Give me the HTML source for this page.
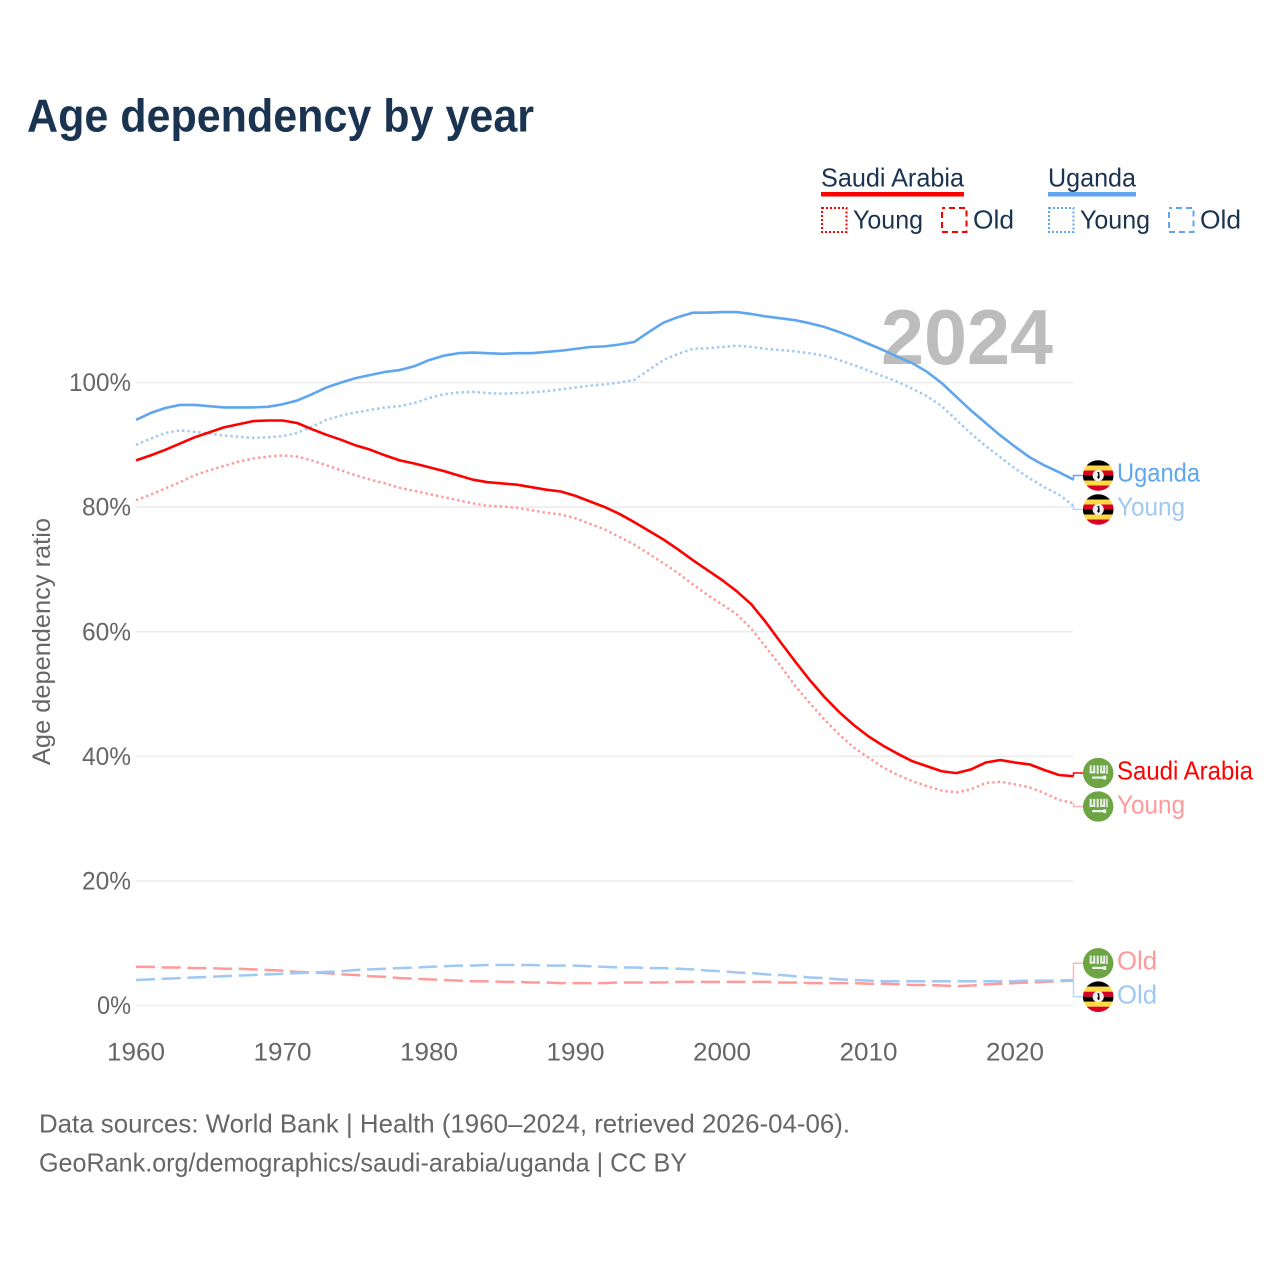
<!DOCTYPE html>
<html lang="en">
<head>
<meta charset="utf-8">
<title>Age dependency by year</title>
<style>
html,body{margin:0;padding:0;background:#fff;width:1280px;height:1280px;overflow:hidden}
svg{display:block}
text{font-family:"Liberation Sans",sans-serif}
</style>
</head>
<body>
<svg id="chart" width="1280" height="1280" viewBox="0 0 1280 1280" xmlns="http://www.w3.org/2000/svg">
  <defs>
    <clipPath id="flag-clip"><circle cx="0" cy="0" r="15.3"/></clipPath>
    <g id="flag-ug" clip-path="url(#flag-clip)">
      <rect x="-16" y="-16" width="32" height="6" fill="#000"/>
      <rect x="-16" y="-10" width="32" height="5" fill="#ffda44"/>
      <rect x="-16" y="-5" width="32" height="5" fill="#d80027"/>
      <rect x="-16" y="0" width="32" height="5" fill="#000"/>
      <rect x="-16" y="5" width="32" height="5" fill="#ffda44"/>
      <rect x="-16" y="10" width="32" height="6" fill="#d80027"/>
      <circle cx="0" cy="0" r="5.6" fill="#f0f0f0"/>
      <path d="M-1 -3.5 L1 -3.5 L1.5 2 L0.5 3.5 L-1 2 L0 -1 Z" fill="#000"/>
    </g>
    <g id="flag-sa" clip-path="url(#flag-clip)">
      <circle cx="0" cy="0" r="15.3" fill="#6da544"/>
      <g transform="translate(0,-0.7)" fill="#f0f0f0">
        <rect x="-8.5" y="-7" width="2" height="8"/>
        <rect x="-8.5" y="-1" width="5.5" height="2"/>
        <rect x="-5" y="-7" width="2" height="8"/>
        <rect x="-1.5" y="-7" width="2" height="8.5"/>
        <rect x="2" y="-7" width="2" height="8"/>
        <rect x="2" y="-1" width="5" height="2"/>
        <rect x="5" y="-7" width="2" height="8"/>
        <rect x="8" y="-7" width="1.5" height="8.5"/>
        <rect x="-6" y="4.2" width="12" height="2.2"/>
        <rect x="5" y="3.5" width="3" height="3.8"/>
      </g>
    </g>
  </defs>

  <text x="27" y="131.5" font-size="46" font-weight="700" fill="#1a3350" textLength="507" lengthAdjust="spacingAndGlyphs">Age dependency by year</text>

  <g fill="#1a3350" font-size="26">
    <g>
      <text x="821" y="186.5" textLength="143" lengthAdjust="spacingAndGlyphs">Saudi Arabia</text>
      <rect x="821" y="192" width="143" height="4.5" fill="#ff0000"/>
    </g>
    <g>
      <rect x="822" y="208" width="24.5" height="24" fill="none" stroke="#ff0000" stroke-width="2" stroke-dasharray="2 2"/>
      <text x="853" y="228.5" textLength="70" lengthAdjust="spacingAndGlyphs">Young</text>
    </g>
    <g>
      <rect x="942" y="208" width="24.5" height="24" fill="none" stroke="#ff0000" stroke-width="2" stroke-dasharray="6 4" stroke-dashoffset="3"/>
      <text x="973" y="228.5" textLength="41" lengthAdjust="spacingAndGlyphs">Old</text>
    </g>
    <g>
      <text x="1048" y="186.5" textLength="88" lengthAdjust="spacingAndGlyphs">Uganda</text>
      <rect x="1048" y="192" width="88" height="4.5" fill="#5fa6ee"/>
    </g>
    <g>
      <rect x="1049" y="208" width="24.5" height="24" fill="none" stroke="#5fa6ee" stroke-width="2" stroke-dasharray="2 2"/>
      <text x="1080" y="228.5" textLength="70" lengthAdjust="spacingAndGlyphs">Young</text>
    </g>
    <g>
      <rect x="1169" y="208" width="24.5" height="24" fill="none" stroke="#5fa6ee" stroke-width="2" stroke-dasharray="6 4" stroke-dashoffset="3"/>
      <text x="1200" y="228.5" textLength="41" lengthAdjust="spacingAndGlyphs">Old</text>
    </g>
  </g>

  <text transform="translate(50,765) rotate(-90)" x="0" y="0" font-size="25" fill="#666" textLength="247" lengthAdjust="spacingAndGlyphs">Age dependency ratio</text>

  <g id="grid"></g>
  <g id="y-ticks"></g>
  <g id="x-ticks"></g>

  <text x="881" y="364" font-size="78" font-weight="700" fill="#bdbdbd" textLength="172" lengthAdjust="spacingAndGlyphs">2024</text>

  <g id="series"></g>
  <g id="end-labels"></g>

  <g font-size="26" fill="#666">
    <text x="39" y="1132.5" textLength="811" lengthAdjust="spacingAndGlyphs">Data sources: World Bank | Health (1960–2024, retrieved 2026-04-06).</text>
    <text x="39" y="1171.5" textLength="648" lengthAdjust="spacingAndGlyphs">GeoRank.org/demographics/saudi-arabia/uganda | CC BY</text>
  </g>
</svg>

<script>
const years = [1960,1961,1962,1963,1964,1965,1966,1967,1968,1969,1970,1971,1972,1973,1974,1975,1976,1977,1978,1979,1980,1981,1982,1983,1984,1985,1986,1987,1988,1989,1990,1991,1992,1993,1994,1995,1996,1997,1998,1999,2000,2001,2002,2003,2004,2005,2006,2007,2008,2009,2010,2011,2012,2013,2014,2015,2016,2017,2018,2019,2020,2021,2022,2023,2024];
const xTickLabels = [1960,1970,1980,1990,2000,2010,2020];
const yTickLabels = [0,20,40,60,80,100];
const ugandaTotal = [94,95.1,95.9,96.4,96.4,96.2,96,96,96,96.1,96.5,97.1,98.1,99.2,100,100.7,101.2,101.7,102,102.6,103.6,104.3,104.7,104.8,104.7,104.6,104.7,104.7,104.9,105.1,105.4,105.7,105.8,106.1,106.5,108.1,109.6,110.5,111.2,111.2,111.3,111.3,111,110.6,110.3,110,109.5,108.9,108.1,107.2,106.2,105.2,104.1,103.1,101.7,99.9,97.7,95.5,93.5,91.5,89.7,88,86.7,85.6,84.4];
const ugandaYoung = [90,91,91.9,92.3,92.1,91.8,91.5,91.3,91.1,91.2,91.4,91.9,92.9,94,94.7,95.2,95.6,96,96.2,96.7,97.5,98.1,98.4,98.5,98.3,98.2,98.3,98.4,98.6,98.9,99.2,99.5,99.7,100,100.4,102,103.6,104.6,105.4,105.5,105.7,105.9,105.7,105.4,105.2,105,104.7,104.3,103.6,102.8,101.9,101,100.1,99,97.8,96.2,94,91.8,89.8,88,86.2,84.6,83.2,82,80.2];
const ugandaOld = [4.1,4.2,4.3,4.4,4.5,4.6,4.7,4.8,4.9,5,5.1,5.2,5.3,5.4,5.5,5.7,5.8,5.9,6,6.1,6.2,6.3,6.4,6.4,6.5,6.5,6.5,6.5,6.4,6.4,6.4,6.3,6.2,6.1,6.1,6,6,5.9,5.8,5.6,5.5,5.3,5.2,5,4.9,4.7,4.5,4.4,4.2,4.1,4,3.9,3.9,3.9,3.9,3.9,3.9,3.9,3.9,3.9,3.9,4,4,4,4.1];
const saudiTotal = [87.5,88.3,89.2,90.2,91.2,92,92.8,93.3,93.8,93.9,93.9,93.5,92.5,91.6,90.8,89.9,89.2,88.3,87.5,87,86.4,85.8,85.1,84.4,84,83.8,83.6,83.2,82.8,82.5,81.8,80.9,80,78.9,77.6,76.2,74.8,73.2,71.5,69.9,68.3,66.5,64.4,61.5,58.3,55.2,52.2,49.5,47.1,45,43.2,41.7,40.4,39.2,38.4,37.6,37.3,37.9,39,39.4,39,38.7,37.8,37,36.8];
const saudiYoung = [81.1,82,83,84,85.1,85.9,86.6,87.3,87.8,88.1,88.3,88.1,87.5,86.7,85.9,85.1,84.4,83.8,83.1,82.6,82.1,81.6,81.1,80.6,80.2,80.1,79.9,79.5,79.1,78.8,78.2,77.3,76.4,75.2,74,72.5,71,69.4,67.6,65.9,64.4,62.8,60.5,57.5,54.5,51.3,48.5,45.9,43.5,41.4,39.8,38.2,37,36,35.2,34.5,34.2,34.7,35.7,35.9,35.5,35,34.1,33,32.5];
const saudiOld = [6.2,6.2,6.1,6.1,6,6,5.9,5.9,5.8,5.7,5.6,5.4,5.3,5.2,5,4.9,4.7,4.6,4.4,4.3,4.2,4.1,4,3.9,3.9,3.8,3.8,3.7,3.7,3.6,3.6,3.6,3.6,3.7,3.7,3.7,3.7,3.8,3.8,3.8,3.8,3.8,3.8,3.8,3.7,3.7,3.6,3.6,3.6,3.6,3.5,3.5,3.4,3.3,3.3,3.2,3.1,3.2,3.4,3.5,3.6,3.7,3.8,3.9,4];

const NS = 'http://www.w3.org/2000/svg';
const xScale = function (year) { return 136 + (year - 1960) * 14.65; };
const yScale = function (pct) { return 1005.5 - pct * 6.23; };

const gridGroup = document.getElementById('grid');
const yTickGroup = document.getElementById('y-ticks');
const xTickGroup = document.getElementById('x-ticks');
const seriesGroup = document.getElementById('series');
const labelGroup = document.getElementById('end-labels');

yTickLabels.forEach(function (v) {
  const line = document.createElementNS(NS, 'line');
  line.setAttribute('x1', 136);
  line.setAttribute('x2', 1073);
  line.setAttribute('y1', yScale(v));
  line.setAttribute('y2', yScale(v));
  line.setAttribute('stroke', '#ececec');
  line.setAttribute('stroke-width', '1.6');
  
  
  gridGroup.appendChild(line);

  const t = document.createElementNS(NS, 'text');
  t.textContent = v + '%';
  t.setAttribute('x', 131);
  t.setAttribute('y', yScale(v) + 8.6);
  t.setAttribute('text-anchor', 'end');
  t.setAttribute('font-size', '25');
  t.setAttribute('fill', '#666');
  t.setAttribute('textLength', v === 100 ? 62 : (v === 0 ? 34 : 49));
  t.setAttribute('lengthAdjust', 'spacingAndGlyphs');
  
  
  yTickGroup.appendChild(t);
});

xTickLabels.forEach(function (y) {
  const t = document.createElementNS(NS, 'text');
  t.textContent = y;
  t.setAttribute('x', xScale(y));
  t.setAttribute('y', 1060.5);
  t.setAttribute('text-anchor', 'middle');
  t.setAttribute('font-size', '25');
  t.setAttribute('fill', '#666');
  t.setAttribute('textLength', 58);
  t.setAttribute('lengthAdjust', 'spacingAndGlyphs');
  
  
  xTickGroup.appendChild(t);
});

function drawSeries(values, color, width, dash, name) {
  const p = document.createElementNS(NS, 'path');
  const d = values.map(function (v, i) {
    return (i ? 'L' : 'M') + xScale(years[i]).toFixed(2) + ' ' + yScale(v).toFixed(2);
  }).join(' ');
  p.setAttribute('d', d);
  p.setAttribute('fill', 'none');
  p.setAttribute('stroke', color);
  p.setAttribute('stroke-width', width);
  p.setAttribute('stroke-linejoin', 'round');
  if (dash) p.setAttribute('stroke-dasharray', dash);
  
  
  seriesGroup.appendChild(p);
}

const RED = '#ff0000', RED_L = '#ff9a9a', BLUE = '#5fa6ee', BLUE_L = '#9fc8f3';
drawSeries(saudiOld, RED_L, 2.5, '19 6.7', 'saudi-old-line');
drawSeries(ugandaOld, BLUE_L, 2.5, '19 6.7', 'uganda-old-line');
drawSeries(saudiYoung, RED_L, 2.5, '2.4 3', 'saudi-young-line');
drawSeries(ugandaYoung, BLUE_L, 2.5, '2.4 3', 'uganda-young-line');
drawSeries(saudiTotal, RED, 2.6, '', 'saudi-total-line');
drawSeries(ugandaTotal, BLUE, 2.6, '', 'uganda-total-line');

function endLabel(values, flagCentreY, baseline, flagId, text, textW, color, leaderColor, name) {
  const endY = yScale(values[values.length - 1]);
  const leader = document.createElementNS(NS, 'path');
  leader.setAttribute('d', 'M1073.5 ' + endY.toFixed(2) + ' V' + flagCentreY + ' H1083');
  leader.setAttribute('fill', 'none');
  leader.setAttribute('stroke', leaderColor);
  leader.setAttribute('stroke-width', '1.5');
  
  
  labelGroup.appendChild(leader);

  const flag = document.createElementNS(NS, 'use');
  flag.setAttribute('href', '#' + flagId);
  flag.setAttribute('transform', 'translate(1098.2,' + flagCentreY + ')');
  
  
  labelGroup.appendChild(flag);

  const t = document.createElementNS(NS, 'text');
  t.textContent = text;
  t.setAttribute('x', 1117);
  t.setAttribute('y', baseline);
  t.setAttribute('font-size', '26');
  t.setAttribute('fill', color);
  t.setAttribute('textLength', textW);
  t.setAttribute('lengthAdjust', 'spacingAndGlyphs');
  
  
  labelGroup.appendChild(t);
}

endLabel(ugandaTotal, 475.5, 481.5, 'flag-ug', 'Uganda', 83, BLUE, BLUE, 'uganda-total');
endLabel(ugandaYoung, 509.5, 515.5, 'flag-ug', 'Young', 68, BLUE_L, '#b9d8f7', 'uganda-young');
endLabel(saudiTotal, 773, 779.5, 'flag-sa', 'Saudi Arabia', 136, RED, RED, 'saudi-total');
endLabel(saudiYoung, 806.5, 813.5, 'flag-sa', 'Young', 68, RED_L, '#ffb5b5', 'saudi-young');
endLabel(saudiOld, 963.3, 969.5, 'flag-sa', 'Old', 40, RED_L, '#ffb5b5', 'saudi-old');
endLabel(ugandaOld, 996.7, 1003.5, 'flag-ug', 'Old', 40, BLUE_L, '#b9d8f7', 'uganda-old');
</script>
</body>
</html>
